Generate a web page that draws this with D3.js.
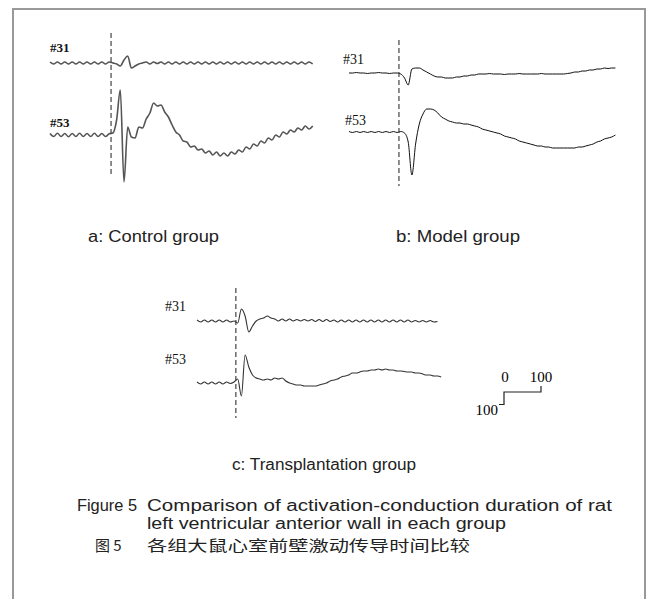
<!DOCTYPE html>
<html>
<head>
<meta charset="utf-8">
<script src="https://cdn.jsdelivr.net/npm/d3@7"></script>
<style>
  body { margin: 0; background: #fff; }
</style>
</head>
<body>
<div id="chart"></div>
<script>
// Epicardial electrograms, leads #31 and #53, in three groups.
// Each trace is sampled every 10 ms, amplitude in arbitrary units (100 = scale bar).
var stepMs = 10;

// time of stimulus (dashed line), ms from the start of each trace
var stimMs = [165, 135, 105];

var panelNames = ["a: Control group", "b: Model group", "c: Transplantation group"];
var leadNames = ["#31", "#53"];
var scaleTicks = ["0", "100"];

// a: Control group
var a31 = [8,-8,8,-8,8,-8,8,-8,8,-8,8,-8,8,-8,8,-8,8,
  0,-8,-24,24,56,-40,-24,-8,0,
  8,-8,8,-4,8,-8,8,-8,8,-8,8,-8,8,-8,8,-8,8,-8,8,-8,8,-8,8,-8,8,-8,8,-8,8,-8,8,-8,8,-8,8,-8,8,-8,8,-8,8,-8,8,-8,8,-8];
var a53 = [12,-12,14,-12,12,-14,12,-12,14,-12,12,-12,14,-12,12,-12,10,
  16,120,360,-376,64,-16,-24,64,56,128,176,256,232,240,184,144,80,24,0,
  -48,-56,-96,-88,-120,-112,-144,-128,-160,-136,-168,-144,-168,-136,-152,-120,-136,-96,-112,-72,
  -88,-48,-64,-24,-40,0,-16,24,8,40,24,56,40,72,48,72];

// b: Model group
var b31 = [0,0,4,0,0,-4,0,0,4,0,0,-4,0,0,
  -8,-40,-96,32,40,40,24,8,-8,-24,-32,-32,-40,-40,-40,-32,-32,-24,-24,-16,-16,-8,
  -8,-8,-4,-8,-8,-8,-12,-8,-8,-8,-4,-8,-8,-8,-8,-8,-4,-8,-8,-8,-8,-8,-8,
  -4,0,8,8,16,16,24,24,32,32,40,36,40,40];
var b53 = [4,-4,4,-4,4,-4,4,-4,4,-4,4,-4,4,-4,4,
  -8,-80,-344,-96,64,144,184,184,176,152,120,104,88,80,72,72,64,64,56,48,40,24,16,8,0,
  -8,-16,-32,-40,-48,-56,-72,-80,-88,-96,-104,-112,-112,-120,-120,-128,-128,-128,-128,
  -128,-128,-128,-120,-120,-112,-104,-96,-80,-72,-56,-48,-40,-24];

// c: Transplantation group
var c31 = [8,-8,8,-8,8,-8,8,-8,8,-8,
  0,-16,96,40,-88,-40,0,16,24,40,24,
  16,0,16,0,16,0,12,0,12,0,12,-4,12,-4,12,-4,8,-8,8,-8,8,-8,8,-8,8,-8,8,-8,8,-8,
  8,-8,8,-8,8,-8,8,-8,4,-8,4,-8,4,-8,-4];
var c53 = [8,-8,8,-8,8,-8,8,-8,8,-4,
  8,32,-104,224,128,64,40,32,24,32,24,40,32,40,16,0,-8,-16,-16,-24,-24,-24,-24,-16,-8,0,
  16,24,32,48,56,64,80,80,88,96,96,104,104,112,104,112,104,104,96,96,92,88,
  88,80,80,72,64,64,56,56,48];

var traces = [[a31, a53], [b31, b53], [c31, c53]];

// ---- layout ----
var width = 654, height = 599;
var pxPerMs = 0.37;      // 100 ms = 37 px
var pxPerUnit = 0.125;   // 100 units = 12.5 px

var panels = [
  { x0: 50,  base: [63, 135],  labelX: [50, 50],   labelY: [52, 127], dash: [33, 175],
    stroke: "#555", width: 1.6, bold: true,  capX: 88,  capY: 242, capLen: 131 },
  { x0: 349, base: [73, 132],  labelX: [343, 345], labelY: [64, 125], dash: [40, 186],
    stroke: "#111", width: 1.0, bold: false, capX: 396, capY: 242, capLen: 124 },
  { x0: 197, base: [321, 383], labelX: [165, 165], labelY: [311, 364], dash: [288, 418],
    stroke: "#333", width: 1.1, bold: false, capX: 232, capY: 470, capLen: 184 }
];

var svg = d3.select("#chart")
  .append("svg")
  .attr("width", width)
  .attr("height", height);

svg.append("rect")
  .attr("width", width)
  .attr("height", height)
  .attr("fill", "#fff");

// outer frame (open at the bottom)
svg.append("path")
  .attr("d", "M13,599 L13,9 L645,9 L645,599")
  .attr("fill", "none")
  .attr("stroke", "#999")
  .attr("stroke-width", 2);

var serif = "'Liberation Serif', 'DejaVu Serif', serif";
var sans = "'Liberation Sans', Arial, sans-serif";
var cjk = "'Noto Sans CJK SC', sans-serif";

panels.forEach(function(p, k) {
  var g = svg.append("g");
  var n = d3.max(traces[k], d => d.length);
  var x = d3.scaleLinear()
    .domain([0, (n - 1) * stepMs])
    .range([p.x0, p.x0 + (n - 1) * stepMs * pxPerMs]);

  traces[k].forEach(function(vals, j) {
    var y = d3.scaleLinear()
      .domain([-100, 100])
      .range([p.base[j] + 100 * pxPerUnit, p.base[j] - 100 * pxPerUnit]);

    var line = d3.line()
      .x((v, i) => x(i * stepMs))
      .y(v => y(v))
      .curve(d3.curveMonotoneX);

    g.append("path")
      .datum(vals)
      .attr("d", line)
      .attr("fill", "none")
      .attr("stroke", p.stroke)
      .attr("stroke-width", p.width)
      .attr("stroke-linejoin", "round");

    g.append("text")
      .attr("x", p.labelX[j])
      .attr("y", p.labelY[j])
      .attr("font-family", serif)
      .attr("font-size", p.bold ? "13px" : "14px")
      .attr("font-weight", p.bold ? "bold" : "normal")
      .attr("fill", "#111")
      .text(leadNames[j]);
  });

  // stimulus marker
  g.append("line")
    .attr("x1", x(stimMs[k]))
    .attr("x2", x(stimMs[k]))
    .attr("y1", p.dash[0])
    .attr("y2", p.dash[1])
    .attr("stroke", "#444")
    .attr("stroke-width", 1.2)
    .attr("stroke-dasharray", "5,3");

  g.append("text")
    .attr("x", p.capX)
    .attr("y", p.capY)
    .attr("font-family", sans)
    .attr("font-size", "16px")
    .attr("fill", "#222")
    .attr("textLength", p.capLen)
    .attr("lengthAdjust", "spacingAndGlyphs")
    .text(panelNames[k]);
});

// scale bar: 100 ms horizontally, 100 units vertically
var sx = d3.scaleLinear().domain([0, 100]).range([504, 504 + 100 * pxPerMs]);
var sy = d3.scaleLinear().domain([0, -100]).range([392, 392 + 100 * pxPerUnit]);

svg.append("path")
  .attr("d", "M" + sx(100) + "," + (sy(0) - 6) +
             " L" + sx(100) + "," + sy(0) +
             " L" + sx(0) + "," + sy(0) +
             " L" + sx(0) + "," + sy(-100) +
             " L" + (sx(0) - 5) + "," + sy(-100))
  .attr("fill", "none")
  .attr("stroke", "#222")
  .attr("stroke-width", 1.2);

svg.append("text").attr("x", sx(0) + 1).attr("y", 382)
  .attr("text-anchor", "middle").attr("font-family", serif).attr("font-size", "15px")
  .text(scaleTicks[0]);
svg.append("text").attr("x", sx(100)).attr("y", 382)
  .attr("text-anchor", "middle").attr("font-family", serif).attr("font-size", "15px")
  .text(scaleTicks[1]);
svg.append("text").attr("x", sx(0) - 6).attr("y", 415)
  .attr("text-anchor", "end").attr("font-family", serif).attr("font-size", "15px")
  .text(scaleTicks[1]);

// figure caption
var caption = [
  { x: 77,  y: 511, t: "Figure 5", f: sans, s: 16, len: 60 },
  { x: 147, y: 511, t: "Comparison of activation-conduction duration of rat", f: sans, s: 16, len: 465 },
  { x: 147, y: 529, t: "left ventricular anterior wall in each group", f: sans, s: 16, len: 359 },
  { x: 95,  y: 551, t: "图 5", f: cjk, s: 15 },
  { x: 147, y: 551, t: "各组大鼠心室前壁激动传导时间比较", f: cjk, s: 15, len: 323 }
];
caption.forEach(function(c) {
  var t = svg.append("text")
    .attr("x", c.x)
    .attr("y", c.y)
    .attr("font-family", c.f)
    .attr("font-size", c.s + "px")
    .attr("fill", "#222")
    .text(c.t);
  if (c.len) t.attr("textLength", c.len).attr("lengthAdjust", "spacingAndGlyphs");
});
</script>
</body>
</html>
